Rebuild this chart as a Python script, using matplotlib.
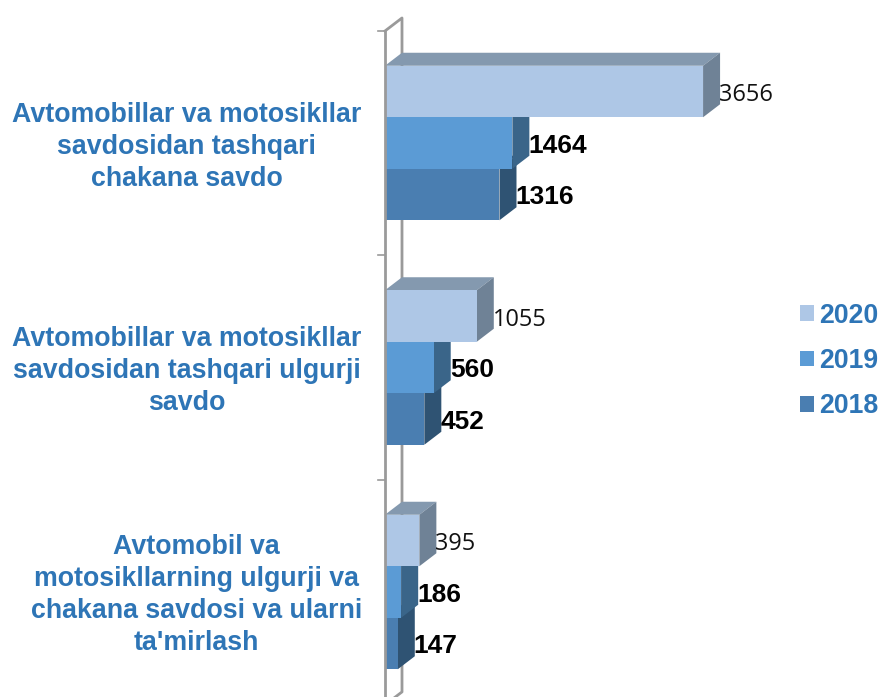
import matplotlib
matplotlib.use('Agg')
import matplotlib.pyplot as plt
from matplotlib.patches import Polygon, Patch

W, H = 879, 697

# Data
categories = ["Avtomobillar va motosikllar\nsavdosidan tashqari\nchakana savdo",
              "Avtomobillar va motosikllar\nsavdosidan tashqari ulgurji\nsavdo",
              "Avtomobil va\nmotosikllarning ulgurji va\nchakana savdosi va ularni\nta'mirlash"]
years = ['2020', '2019', '2018']
v2020 = [3656, 1055, 395]
v2019 = [1464, 560, 186]
v2018 = [1316, 452, 147]

front_colors = ['#AEC7E6', '#5B9BD5', '#4A7EB1']
side_colors = ['#6F8296', '#3A6589', '#2F5373']
top_colors = ['#8499AF', '#3F6D94', '#335A7C']
text_blue = '#2E75B6'
wall = '#9A9A9A'

plt.rcParams['font.family'] = ['Liberation Sans', 'DejaVu Sans']

fig = plt.figure(figsize=(W / 100, H / 100), dpi=100)
# axis runs from px x=385 to the right edge, px y=31 down to the bottom edge
ax = fig.add_axes([385 / W, 0, (W - 385) / W, (H - 31) / H])
px_per_unit = 0.087
px_per_cat = 224.5
ax.set_xlim(0, (W - 385) / px_per_unit)
ax.set_ylim((H - 143) / px_per_cat, (31 - 143) / px_per_cat)
ax.axis('off')

# 3D depth of the bars, in data units
dx = 17 / px_per_unit
dy = 13 / px_per_cat
bar_h = 51.5 / px_per_cat

# back wall and front axis line (front line stays on top of the bars)
ax.plot([0, 0], [-0.499, 2.6], color=wall, lw=2, clip_on=False, zorder=10)
ax.plot([0, dx, dx, 0], [-0.499, -0.499 - dy, 2.445, 2.445 + dy], color=wall, lw=2,
        clip_on=False, zorder=1)
for i in range(3):
    ax.plot([-7 / px_per_unit, 0], [i - 0.5, i - 0.5], color=wall, lw=1.2, clip_on=False, zorder=1)

series = [v2020, v2019, v2018]
# bottom series first so the one above covers it
z = 2
for s in [2, 1, 0]:
    vals = series[s]
    for c, v in enumerate(vals):
        y0 = c + (s - 1.5) * bar_h
        y1 = y0 + bar_h
        ax.add_patch(Polygon([(0, y0), (dx, y0 - dy), (v + dx, y0 - dy), (v, y0)],
                             fc=top_colors[s], ec='none', clip_on=False, zorder=z))
        ax.add_patch(Polygon([(v, y0), (v + dx, y0 - dy), (v + dx, y1 - dy), (v, y1)],
                             fc=side_colors[s], ec='none', clip_on=False, zorder=z))
        ax.barh(c + (s - 1) * bar_h, v, height=bar_h, color=front_colors[s], zorder=z + 0.5)
        if s == 0:
            ax.text(v + dx - 1 / px_per_unit, y0 + bar_h / 2 + 0.017, str(v), family='Open Sans',
                    fontsize=16.9, color='#111111', va='center', ha='left', zorder=20)
        else:
            ax.text(v + dx - 1 / px_per_unit, y0 + bar_h / 2 + 0.012, str(v), fontweight='bold',
                    fontsize=18.9, color='#000000', va='center', ha='left', zorder=20)
    z += 1

# category labels
label_x = [186.5, 187, 196.5]
label_y = [147, 371, 595.5]
for txt, lx, ly in zip(categories, label_x, label_y):
    fig.text(lx / W, 1 - ly / H, txt, ha='center', va='center', fontweight='bold',
             fontsize=19.25, color=text_blue, linespacing=1.30)

handles = [Patch(fc=front_colors[i], ec='none', label=years[i]) for i in range(3)]
ax.legend(handles=handles, loc='center left', bbox_to_anchor=(800.5 / W, 1 - 361 / H),
          bbox_transform=fig.transFigure, frameon=False, labelcolor=text_blue,
          prop={'weight': 'bold', 'size': 19.2}, handlelength=0.52, handleheight=0.52,
          handletextpad=0.17, labelspacing=0.725, borderpad=0, borderaxespad=0)

plt.savefig('out.png', dpi=100)
